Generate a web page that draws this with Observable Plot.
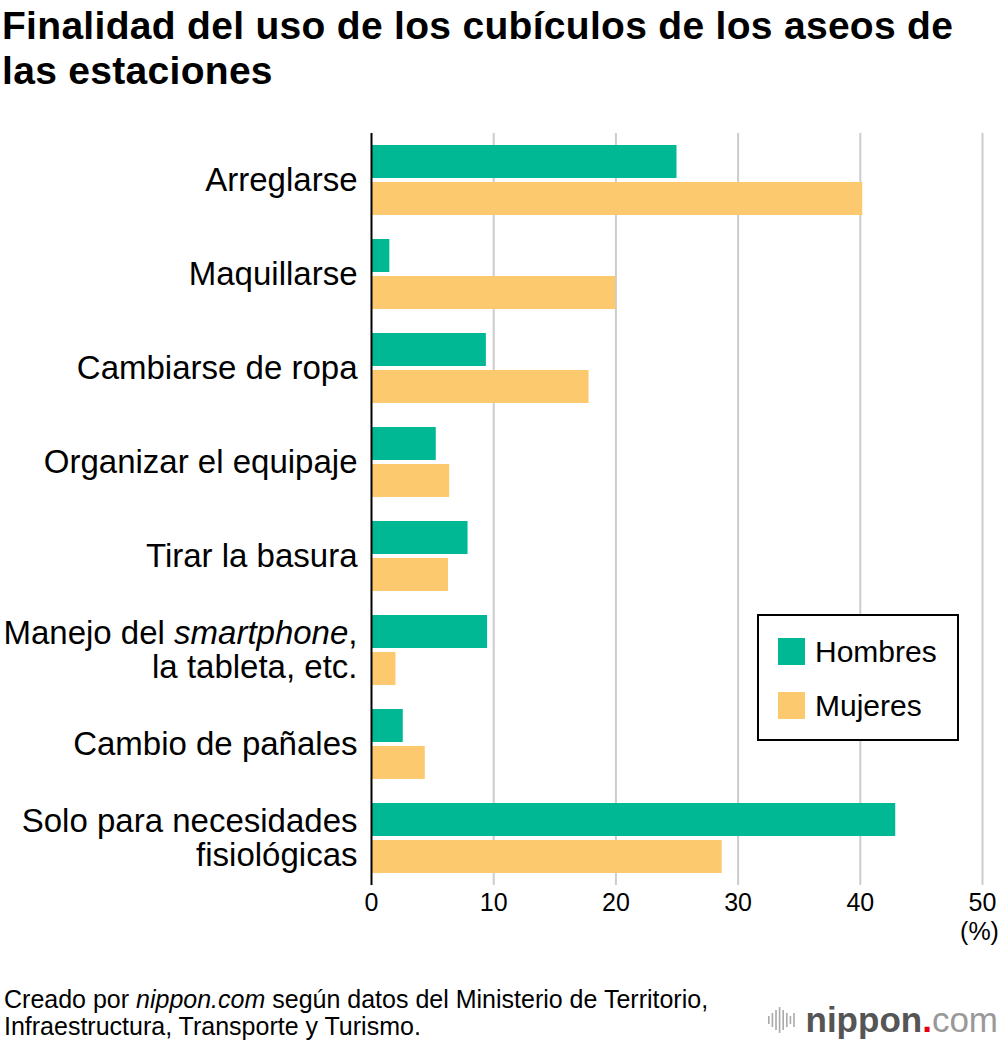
<!DOCTYPE html>
<html>
<head>
<meta charset="utf-8">
<script src="https://cdn.jsdelivr.net/npm/d3@7"></script>
<script src="https://cdn.jsdelivr.net/npm/@observablehq/plot@0.6"></script>
<style>
  html, body { margin: 0; padding: 0; background: #fff; }
  body { position: relative; width: 1000px; height: 1042px; overflow: hidden; font-family: "Liberation Sans", Arial, sans-serif; color: #000; }
  #title { position: absolute; left: 2px; top: 3px; width: 998px; font-size: 39px; font-weight: bold; line-height: 45px; letter-spacing: 0.3px; white-space: nowrap; }
  #chart { position: absolute; left: 0; top: 112px; }
  #legend { position: absolute; left: 757px; top: 614px; width: 198px; height: 123px; border: 2px solid #000; background: #fff; }
  .li { position: absolute; left: 19px; font-size: 30px; line-height: 27px; }
  .li span.sw { display: inline-block; width: 27px; height: 27px; vertical-align: top; margin-right: 10px; }
  #footer { position: absolute; left: 4px; top: 986px; font-size: 25px; line-height: 27px; white-space: nowrap; }
  #logo { position: absolute; right: 2px; top: 1000px; font-size: 35px; line-height: 40px; display: flex; align-items: center; }
</style>
</head>
<body>
<div id="title">Finalidad del uso de los cubículos de los aseos de<br>las estaciones</div>
<div id="chart"></div>
<div id="legend"></div>
<div id="footer">Creado por <i>nippon.com</i> según datos del Ministerio de Territorio,<br>Infraestructura, Transporte y Turismo.</div>
<div id="logo"></div>
<script>
const categories = [
  "Arreglarse",
  "Maquillarse",
  "Cambiarse de ropa",
  "Organizar el equipaje",
  "Tirar la basura",
  "Manejo del smartphone,\nla tableta, etc.",
  "Cambio de pañales",
  "Solo para necesidades\nfisiológicas"
];
const series = ["Hombres", "Mujeres"];
const hombres = [25.0, 1.5, 9.4, 5.3, 7.9, 9.5, 2.6, 42.9];
const mujeres = [40.2, 20.0, 17.8, 6.4, 6.3, 2.0, 4.4, 28.7];
const colors = ["#00b894", "#fcc96f"];
const xTicks = [0, 10, 20, 30, 40, 50];

const data = [];
categories.forEach((c, i) => {
  data.push({category: c, series: series[0], value: hombres[i]});
  data.push({category: c, series: series[1], value: mujeres[i]});
});

const chart = Plot.plot({
  width: 1000,
  height: 843,
  marginTop: 21,
  marginBottom: 70,
  marginLeft: 371,
  marginRight: 18,
  style: {fontFamily: "'Liberation Sans', Arial, sans-serif", fontSize: "32px", color: "#000", background: "#fff", overflow: "visible"},
  x: {domain: [0, 50], axis: null},
  y: {domain: series, axis: null, paddingInner: 0.1, paddingOuter: 0.295},
  fy: {domain: categories, padding: 0, axis: null},
  color: {domain: series, range: colors},
  marks: [
    Plot.ruleX(xTicks.slice(1), {stroke: "#cccccc", strokeWidth: 2}),
    Plot.barX(data, {x: "value", y: "series", fy: "category", fill: "series"}),
    Plot.ruleX([0], {stroke: "#000", strokeWidth: 2}),
    Plot.axisFy({anchor: "left", tickSize: 0, tickPadding: 14, label: null, fontSize: 33, lineHeight: 1.03}),
    Plot.axisX({ticks: xTicks, tickSize: 0, tickPadding: 8, label: null, fontSize: 25}),
    Plot.axisX({ticks: [50], tickFormat: () => "(%)", tickSize: 0, tickPadding: 37, label: null, fontSize: 25, dx: -3})
  ]
});
document.getElementById("chart").appendChild(chart);

// italic "smartphone"
const NS = "http://www.w3.org/2000/svg";
chart.querySelectorAll("tspan, text").forEach(el => {
  if (el.childElementCount === 0 && el.textContent === "Manejo del smartphone,") {
    el.textContent = "";
    el.appendChild(document.createTextNode("Manejo del "));
    const it = document.createElementNS(NS, "tspan");
    it.setAttribute("font-style", "italic");
    it.textContent = "smartphone";
    el.appendChild(it);
    el.appendChild(document.createTextNode(","));
  }
});

// legend
const legend = document.getElementById("legend");
series.forEach((s, i) => {
  const d = document.createElement("div");
  d.className = "li";
  d.style.top = (22 + i * 54) + "px";
  d.innerHTML = `<span class="sw" style="background:${colors[i]}"></span>${s}`;
  legend.appendChild(d);
});

// logo
const logo = document.getElementById("logo");
const bars = [8, 14, 20, 26, 20, 14, 8, 14];
let icon = `<svg width="30" height="30" style="margin-right:8px">`;
bars.forEach((h, i) => { icon += `<rect x="${i * 3.6}" y="${(30 - h) / 2}" width="1.6" height="${h}" fill="#aaa"/>`; });
icon += `</svg>`;
logo.innerHTML = icon + `<span style="color:#555;font-weight:bold">nippon</span><span style="color:#e60012;font-weight:bold">.</span><span style="color:#999">com</span>`;
</script>
</body>
</html>
